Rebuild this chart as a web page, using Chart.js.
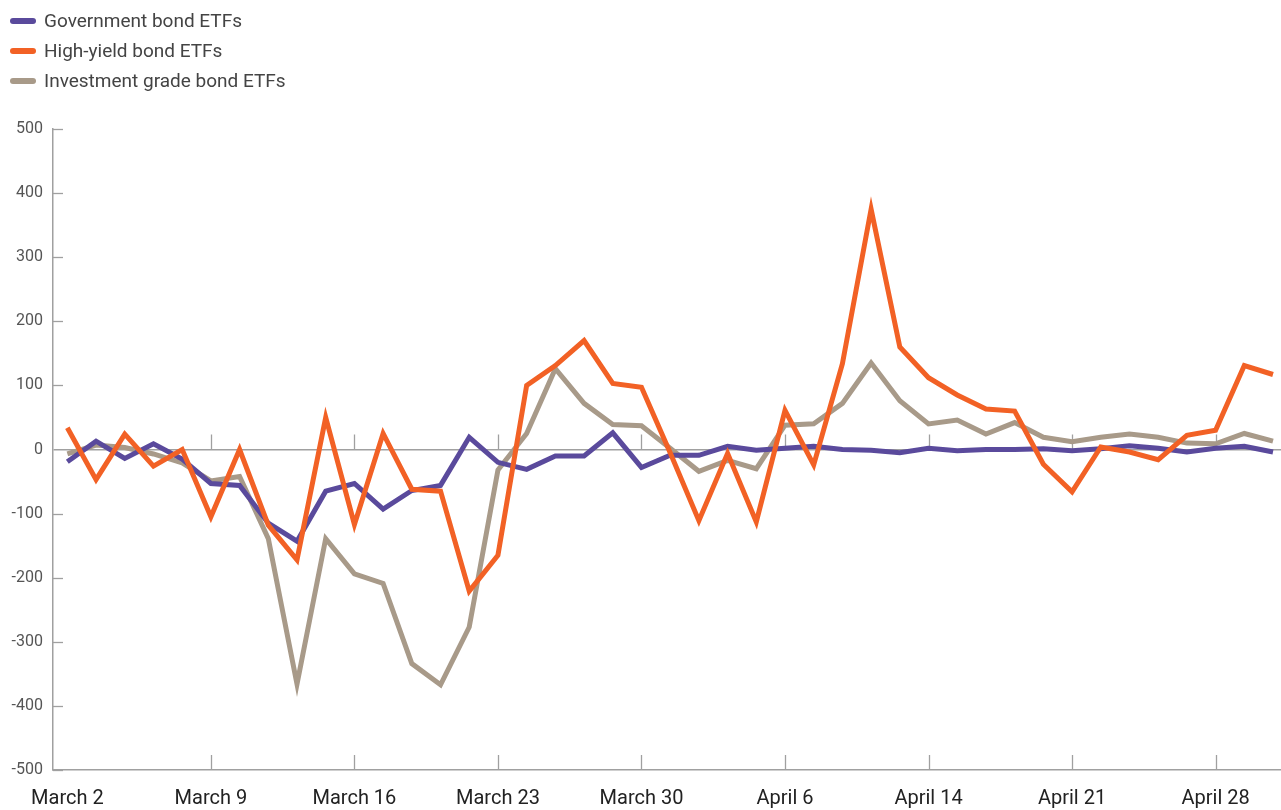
<!DOCTYPE html>
<html>
<head>
<meta charset="utf-8">
<script src="https://cdn.jsdelivr.net/npm/chart.js@4/dist/chart.umd.min.js"></script>
<style>
  html, body { margin: 0; padding: 0; background: #fff; overflow: hidden; width: 1281px; height: 810px; }
  #wrap { position: relative; width: 1281px; height: 810px; overflow: hidden; }
  canvas { position: absolute; left: 0; top: 0; }
  #legend { position: absolute; left: 10px; top: 6px; font-family: Roboto, sans-serif; font-size: 19px; color: #444; }
  .item { height: 30px; line-height: 28px; display: flex; align-items: center; white-space: nowrap; }
  .sw { width: 26px; height: 6px; border-radius: 3px; margin-right: 8px; }
</style>
</head>
<body>
<div id="wrap">
  <canvas id="c" width="1290" height="810"></canvas>
  <div id="legend"></div>
</div>
<script>
const categories = [
  'March 2','March 3','March 4','March 5','March 6',
  'March 9','March 10','March 11','March 12','March 13',
  'March 16','March 17','March 18','March 19','March 20',
  'March 23','March 24','March 25','March 26','March 27',
  'March 30','March 31','April 1','April 2','April 3',
  'April 6','April 7','April 8','April 9','April 13',
  'April 14','April 15','April 16','April 17','April 20',
  'April 21','April 22','April 23','April 24','April 27',
  'April 28','April 29','April 30'
];
const xTickLabels = ['March 2','March 9','March 16','March 23','March 30','April 6','April 14','April 21','April 28'];

const seriesNames = ['Government bond ETFs','High-yield bond ETFs','Investment grade bond ETFs'];
const seriesColors = ['#5a4a9c','#f26125','#a89a89'];

const government = [-19,13,-14,9,-15,-53,-56,-115,-143,-65,-53,-93,-64,-56,19,-20,-31,-10,-10,26,-28,-9,-9,5,-1,2,5,0,-1,-5,2,-2,0,0,1,-2,1,6,2,-4,2,5,-4];
const highYield = [34,-47,24,-26,0,-105,0,-118,-172,50,-117,25,-62,-65,-221,-165,100,131,170,103,97,-5,-111,-6,-113,61,-24,134,375,160,112,85,63,60,-23,-66,4,-4,-16,22,30,131,117];
const investmentGrade = [-7,7,3,-7,-21,-49,-42,-139,-366,-139,-194,-209,-334,-367,-277,-32,25,126,72,39,37,2,-34,-17,-30,38,40,72,135,76,40,46,24,42,19,12,19,24,19,10,9,25,13];

const yMin = -500, yMax = 500, yStep = 100;

const axisColor = '#a0a0a0';

const innerTicks = {
  id: 'innerTicks',
  beforeDatasetsDraw(chart) {
    const ctx = chart.ctx;
    const x = chart.scales.x, y = chart.scales.y;
    const area = chart.chartArea;
    ctx.save();
    ctx.strokeStyle = axisColor;
    ctx.lineWidth = 1.3;
    const zeroY = y.getPixelForValue(0);
    categories.forEach((c, i) => {
      if (i === 0 || !xTickLabels.includes(c)) return;
      const px = Math.round(x.getPixelForValue(i)) + 0.5;
      ctx.beginPath();
      ctx.moveTo(px, zeroY); ctx.lineTo(px, zeroY - 15);
      ctx.moveTo(px, area.bottom); ctx.lineTo(px, area.bottom - 15);
      ctx.stroke();
    });
    for (let v = yMin; v <= yMax; v += yStep) {
      if (v === 0) continue;
      const py = Math.round(y.getPixelForValue(v)) + 0.5;
      ctx.beginPath();
      ctx.moveTo(area.left, py); ctx.lineTo(area.left + 10, py);
      ctx.stroke();
    }
    ctx.restore();
  }
};

const chart = new Chart(document.getElementById('c'), {
  type: 'line',
  data: {
    labels: categories,
    datasets: [
      { label: seriesNames[1], data: highYield, borderColor: seriesColors[1], order: 0 },
      { label: seriesNames[0], data: government, borderColor: seriesColors[0], order: 1 },
      { label: seriesNames[2], data: investmentGrade, borderColor: seriesColors[2], order: 2 }
    ].map(d => Object.assign(d, { borderWidth: 5, pointRadius: 0, tension: 0, fill: false, backgroundColor: d.borderColor }))
  },
  options: {
    responsive: false,
    animation: false,
    devicePixelRatio: 1,
    layout: { padding: { top: 129, left: 0, right: 0, bottom: 0 } },
    plugins: { legend: { display: false }, tooltip: { enabled: false } },
    scales: {
      x: {
        type: 'category',
        offset: true,
        grid: { display: false, drawTicks: false },
        border: { display: true, color: axisColor, width: 1.5 },
        ticks: {
          autoSkip: false, maxRotation: 0, minRotation: 0,
          padding: 17,
          color: '#222',
          font: { family: 'Roboto', size: 20 },
          callback: function(v, i) { const c = categories[i]; return xTickLabels.includes(c) ? c : ''; }
        },
        afterFit(s) { s.height = 40; }
      },
      y: {
        min: yMin, max: yMax,
        grid: {
          drawTicks: false,
          color: ctx => (ctx.tick && ctx.tick.value === 0) ? axisColor : 'rgba(0,0,0,0)',
          lineWidth: 1.5
        },
        border: { display: true, color: axisColor, width: 1.5 },
        ticks: {
          stepSize: yStep, padding: 10, color: '#555',
          font: { family: 'Roboto', size: 16 }
        },
        afterFit(s) { s.width = 53; }
      }
    }
  },
  plugins: [innerTicks]
});

const legend = document.getElementById('legend');
seriesNames.forEach((n, i) => {
  const div = document.createElement('div');
  div.className = 'item';
  const sw = document.createElement('span');
  sw.className = 'sw';
  sw.style.background = seriesColors[i];
  const t = document.createElement('span');
  t.textContent = n;
  div.appendChild(sw); div.appendChild(t);
  legend.appendChild(div);
});
</script>
</body>
</html>
